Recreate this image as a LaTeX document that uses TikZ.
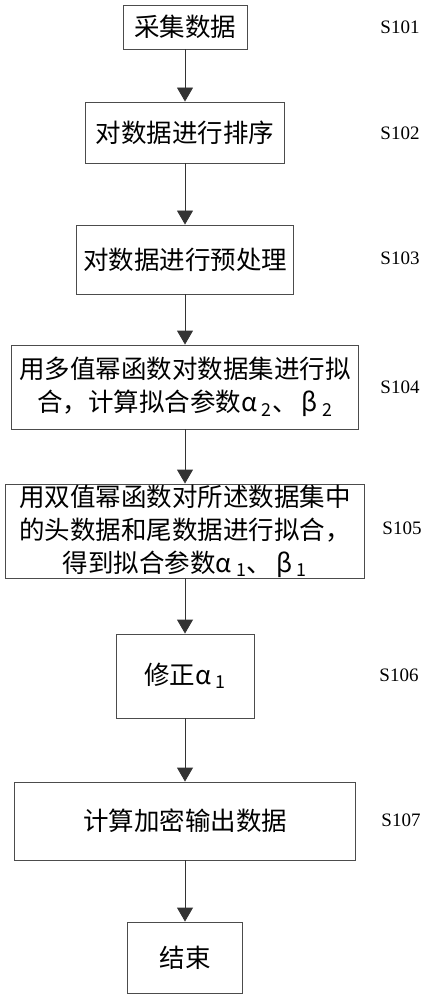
\documentclass[tikz,border=0pt]{standalone}
\usepackage{fontspec}
\setmainfont{Liberation Serif}
\newfontfamily\cjk{Noto Sans CJK SC}
\usetikzlibrary{arrows.meta}

\begin{document}
\begin{tikzpicture}[x=1pt, y=-1pt,
    stepbox/.style={rectangle, draw=black!70, line width=0.9pt, inner sep=0pt, align=center,
      font=\cjk\fontsize{25.5}{33}\selectfont},
    steplabel/.style={font=\fontsize{19}{21}\selectfont},
    flow/.style={draw=black!80, line width=0.9pt, -{Triangle[width=16pt,length=14pt]}}]
          \useasboundingbox (0,0) rectangle (428,1000);

          \node[stepbox, minimum width=124pt, minimum height=44pt] (s1) at (185,27) {采集数据};
          \node[stepbox, minimum width=199pt, minimum height=61pt] (s2) at (185,132.5) {对数据进行排序};
          \node[stepbox, minimum width=217pt, minimum height=69pt] (s3) at (185,259.5) {对数据进行预处理};
          \node[stepbox, minimum width=347pt, minimum height=84pt] (s4) at (185,387)
            {用多值幂函数对数据集进行拟\\合，计算拟合参数α\,\textsubscript{2}、\,β\,\textsubscript{2}};
          \node[stepbox, minimum width=359pt, minimum height=94pt] (s5) at (185,531)
            {用双值幂函数对所述数据集中\\的头数据和尾数据进行拟合，\\得到拟合参数α\,\textsubscript{1}、\,β\,\textsubscript{1}};
          \node[stepbox, minimum width=138pt, minimum height=84pt] (s6) at (185,676) {修正α\,\textsubscript{1}};
          \node[stepbox, minimum width=341pt, minimum height=78pt] (s7) at (185,821) {计算加密输出数据};
          \node[stepbox, minimum width=115pt, minimum height=71pt] (s8) at (185,957.5) {结束};

          \node[steplabel] (l1) at (400,27) {S101};
          \node[steplabel] (l2) at (400,133) {S102};
          \node[steplabel] (l3) at (400,258) {S103};
          \node[steplabel] (l4) at (400,387) {S104};
          \node[steplabel] (l5) at (402,528) {S105};
          \node[steplabel] (l6) at (399,675) {S106};
          \node[steplabel] (l7) at (401,820) {S107};

          \draw[flow] (s1) -- (s2);
          \draw[flow] (s2) -- (s3);
          \draw[flow] (s3) -- (s4);
          \draw[flow] (s4) -- (s5);
          \draw[flow] (s5) -- (s6);
          \draw[flow] (s6) -- (s7);
          \draw[flow] (s7) -- (s8);
        \end{tikzpicture}
\end{document}
